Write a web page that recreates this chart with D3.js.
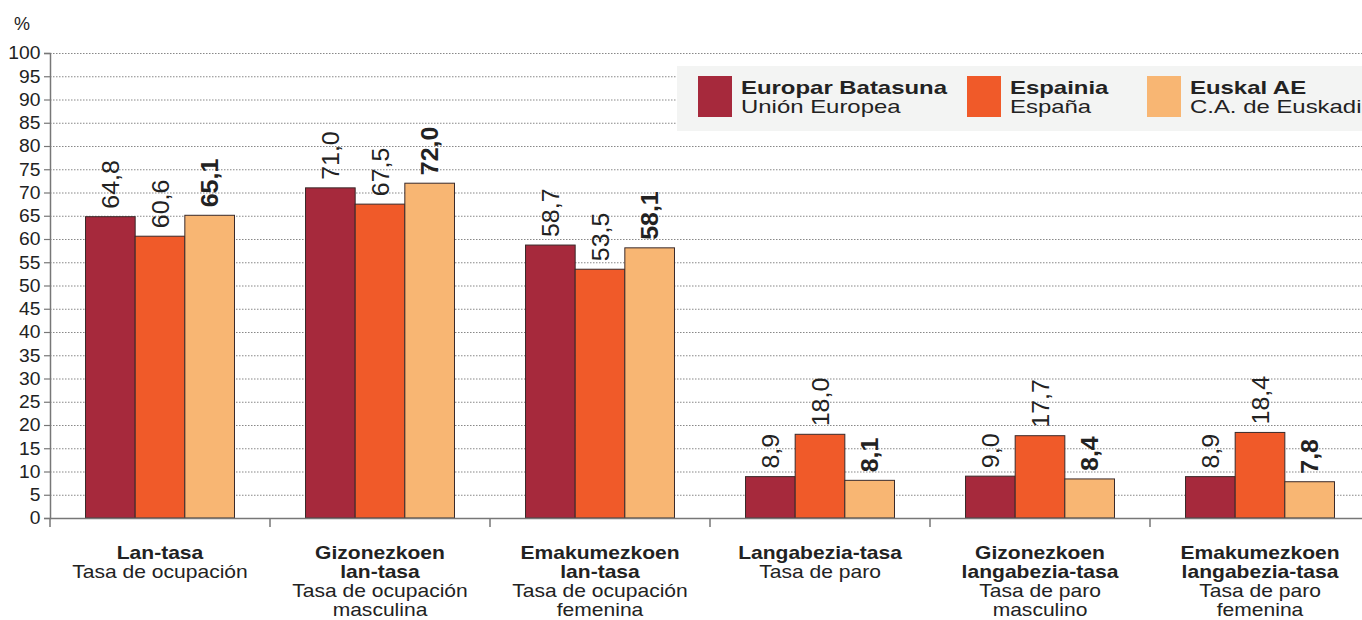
<!DOCTYPE html>
<html>
<head>
<meta charset="utf-8">
<script src="https://cdn.jsdelivr.net/npm/d3@7"></script>
<style>
  body { margin: 0; background: #fff; }
  svg { font-family: "Liberation Sans", Arial, sans-serif; display: block; }
</style>
</head>
<body>
<div class="vis1"></div>
<script>
// categories (bold Basque line + Spanish lines)
const categories = ["lan", "lanGiz", "lanEma", "paro", "paroGiz", "paroEma"];
const catBold = [["Lan-tasa"], ["Gizonezkoen", "lan-tasa"], ["Emakumezkoen", "lan-tasa"],
  ["Langabezia-tasa"], ["Gizonezkoen", "langabezia-tasa"], ["Emakumezkoen", "langabezia-tasa"]];
const catNormal = [["Tasa de ocupación"], ["Tasa de ocupación", "masculina"], ["Tasa de ocupación", "femenina"],
  ["Tasa de paro"], ["Tasa de paro", "masculino"], ["Tasa de paro", "femenina"]];

const series = ["ue", "es", "eus"];
const seriesBold = ["Europar Batasuna", "Espainia", "Euskal AE"];
const seriesNormal = ["Unión Europea", "España", "C.A. de Euskadi"];
const colors = ["#a6293c", "#f05a29", "#f8b673"];

const ueValues = [64.8, 71.0, 58.7, 8.9, 9.0, 8.9];
const esValues = [60.6, 67.5, 53.5, 18.0, 17.7, 18.4];
const eusValues = [65.1, 72.0, 58.1, 8.1, 8.4, 7.8];

const yTicks = d3.range(0, 101, 5);

// chart dimensions
const W = 1362, H = 620;
const plotLeft = 50, plotTop = 53, plotBottom = 518, plotRight = 1370;

const svg = d3.select(".vis1").append("svg").attr("width", W).attr("height", H);

const x = d3.scaleBand().domain(categories).range([plotLeft, plotRight]).paddingInner(0).paddingOuter(0);
const xSub = d3.scaleBand().domain(series).range([0, x.bandwidth()]).paddingInner(0).paddingOuter(0.715);
const y = d3.scaleLinear().domain([0, 100]).range([plotBottom, plotTop]);

// gridlines
svg.append("g")
  .selectAll("line")
  .data(yTicks.filter(d => d > 0))
  .enter().append("line")
  .attr("x1", plotLeft).attr("x2", W)
  .attr("y1", d => y(d) + 0.5).attr("y2", d => y(d) + 0.5)
  .attr("stroke", "#555").attr("stroke-width", 0.7)
  .attr("stroke-dasharray", "1.5,1.5");

// y axis
const yAxis = svg.append("g")
  .attr("transform", "translate(" + plotLeft + ",0)")
  .call(d3.axisLeft(y).tickValues(yTicks).tickSize(6).tickPadding(3).tickFormat(d3.format("d")));
yAxis.select(".domain").attr("stroke", "#777").attr("stroke-width", 1.5);
yAxis.selectAll(".tick line").attr("stroke", "#777").attr("stroke-width", 1.2);
yAxis.selectAll(".tick text").attr("font-size", 18).attr("fill", "#222")
  .attr("font-family", "Liberation Sans, Arial, sans-serif")
  .attr("transform", "scale(1.07,1)");

svg.append("text").attr("x", 14).attr("y", 30).attr("font-size", 18).attr("fill", "#222").text("%");

// bars
const data = categories.map((c, i) => ({ cat: c, vals: [ueValues[i], esValues[i], eusValues[i]] }));
const groups = svg.append("g").selectAll("g")
  .data(data)
  .enter().append("g")
  .attr("transform", d => "translate(" + x(d.cat) + ",0)");

groups.selectAll("rect")
  .data(d => d.vals.map((v, j) => ({ s: series[j], v: v, j: j })))
  .enter().append("rect")
  .attr("x", d => xSub(d.s))
  .attr("width", xSub.bandwidth())
  .attr("y", d => y(d.v))
  .attr("height", d => y(0) - y(d.v))
  .attr("fill", d => colors[d.j])
  .attr("stroke", "#3a2a2a").attr("stroke-width", 1);

// rotated value labels
groups.selectAll("text.val")
  .data(d => d.vals.map((v, j) => ({ s: series[j], v: v, j: j })))
  .enter().append("text")
  .attr("class", "val")
  .attr("transform", d => "translate(" + (xSub(d.s) + xSub.bandwidth() / 2 + 8.5) + "," + (y(d.v) - 8) + ") rotate(-90) scale(1.04,1)")
  .attr("font-size", 24)
  .attr("font-weight", d => d.j === 2 ? "bold" : "normal")
  .attr("fill", "#222")
  .text(d => d.v.toFixed(1).replace(".", ","));

// x axis
svg.append("line").attr("x1", plotLeft).attr("x2", W).attr("y1", plotBottom + 0.5).attr("y2", plotBottom + 0.5)
  .attr("stroke", "#777").attr("stroke-width", 1.5);
svg.append("g").selectAll("line")
  .data(categories)
  .enter().append("line")
  .attr("x1", d => x(d)).attr("x2", d => x(d))
  .attr("y1", plotBottom).attr("y2", plotBottom + 9)
  .attr("stroke", "#777").attr("stroke-width", 1.5);

// category labels
const catG = svg.append("g").selectAll("text")
  .data(categories)
  .enter().append("text")
  .attr("text-anchor", "middle")
  .attr("font-size", 18)
  .attr("fill", "#222")
  .attr("transform", d => "translate(" + (x(d) + x.bandwidth() / 2) + ",0) scale(1.17,1)");
catG.each(function (d, i) {
  const t = d3.select(this);
  let line = 0;
  catBold[i].forEach(s => {
    t.append("tspan").attr("x", 0).attr("y", 559 + line * 19).attr("font-weight", "bold").text(s);
    line++;
  });
  catNormal[i].forEach(s => {
    t.append("tspan").attr("x", 0).attr("y", 559 + line * 19).text(s);
    line++;
  });
});

// legend
const legend = svg.append("g");
legend.append("rect").attr("x", 677).attr("y", 66).attr("width", W - 677).attr("height", 65).attr("fill", "#f3f4f3");
const legX = [698, 967, 1147];
series.forEach((s, i) => {
  legend.append("rect").attr("x", legX[i]).attr("y", 76).attr("width", 34).attr("height", 41).attr("fill", colors[i]);
  const lt = legend.append("text").attr("font-size", 18).attr("fill", "#222")
    .attr("transform", "translate(" + (legX[i] + 43) + ",0) scale(1.33,1)");
  lt.append("tspan").attr("x", 0).attr("y", 94).attr("font-weight", "bold").text(seriesBold[i]);
  lt.append("tspan").attr("x", 0).attr("y", 113).text(seriesNormal[i]);
});
</script>
</body>
</html>
